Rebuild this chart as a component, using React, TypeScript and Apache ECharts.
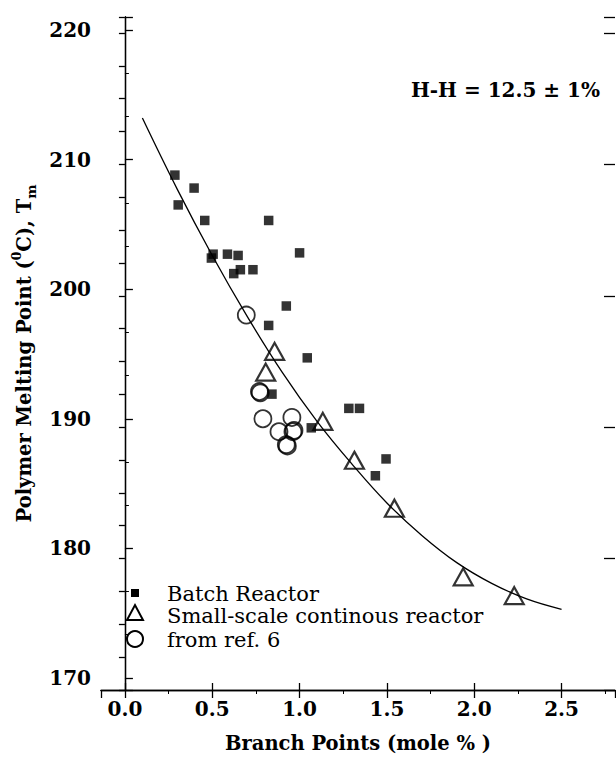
import React, { useEffect, useRef } from "react";
import * as echarts from "echarts";

// ---- data ----
const batchX = [0.286, 0.305, 0.396, 0.457, 0.823, 0.495, 0.505, 0.587, 0.648, 1.0, 0.623, 0.661, 0.733, 0.924, 0.823, 1.044, 0.842, 1.282, 1.343, 1.067, 1.495, 1.434];
const batchY = [208.8, 206.5, 207.8, 205.3, 205.3, 202.4, 202.7, 202.7, 202.6, 202.8, 201.2, 201.5, 201.5, 198.7, 197.2, 194.7, 191.9, 190.8, 190.8, 189.3, 186.9, 185.6];

const contX = [0.806, 0.857, 1.133, 1.314, 1.543, 1.937, 2.229];
const contY = [193.6, 195.2, 189.8, 186.8, 183.1, 177.8, 176.35];

const refX = [0.695, 0.775, 0.77, 0.79, 0.956, 0.882, 0.962, 0.968, 0.924, 0.93];
const refY = [198.0, 192.0, 192.1, 190.0, 190.1, 189.0, 189.0, 189.1, 188.0, 187.9];

const fitX = [0.1, 0.3, 0.5, 0.7, 0.9, 1.1, 1.3, 1.5, 1.7, 1.9, 2.1, 2.3, 2.5];
const fitY = [213.2, 207.7, 202.6, 197.9, 193.6, 189.8, 186.5, 183.5, 181.0, 178.9, 177.3, 176.1, 175.3];

const seriesNames = ["Batch Reactor", "Small-scale continous reactor", "from ref. 6"];
const xTitle = "Branch Points (mole % )";
const yTitle = "Polymer Melting Point ({sup|0}C), T{sub|m}";
const note = "H-H = 12.5 ± 1%";

const X_MIN = -0.137;
const X_MAX = 2.806;
const Y_MIN = 169.07;
const Y_MAX = 221.0;
const R_MAX = 20.487;

const zip = (xs: number[], ys: number[]) => xs.map((x, i) => [x, ys[i]]);

const SERIF = '"DejaVu Serif", serif';
const axisLineStyle = { color: "#000", width: 1.3 };
const legendFont = '21px "DejaVu Serif", serif';

export default function App() {
  const ref = useRef<HTMLDivElement>(null);
  useEffect(() => {
    if (!ref.current) return;
    const chart = echarts.init(ref.current, null, { renderer: "svg" });
    const option: any = {
      animation: false,
      backgroundColor: "#fff",
      grid: { left: 101, right: 1, top: 17, bottom: 68 },
      xAxis: [
        {
          type: "value",
          position: "bottom",
          min: X_MIN,
          max: X_MAX,
          splitNumber: 6,
          axisLine: { show: true, lineStyle: axisLineStyle },
          axisTick: { show: true, inside: true, length: 7, lineStyle: axisLineStyle },
          axisLabel: {
            showMinLabel: false,
            showMaxLabel: false,
            margin: 9,
            color: "#000",
            fontFamily: SERIF,
            fontWeight: "bold",
            fontSize: 20,
            formatter: (v: number) => v.toFixed(1),
          },
          splitLine: { show: false },
          name: xTitle,
          nameLocation: "middle",
          nameGap: 43,
          nameTextStyle: { color: "#000", fontFamily: SERIF, fontWeight: "bold", fontSize: 19.5 },
        },
        {
          type: "value",
          position: "top",
          min: X_MIN,
          max: X_MAX,
          splitNumber: 6,
          axisLine: { show: true, lineStyle: axisLineStyle },
          axisTick: { show: true, inside: true, length: 8, lineStyle: axisLineStyle },
          minorTick: { show: true, splitNumber: 2, length: 4, lineStyle: { color: "#000", width: 1 } },
          axisLabel: { show: false },
          splitLine: { show: false },
        },
      ],
      yAxis: [
        {
          type: "value",
          position: "left",
          min: Y_MIN,
          max: Y_MAX,
          splitNumber: 5,
          axisLine: { show: true, lineStyle: axisLineStyle },
          axisTick: { show: true, inside: true, length: 8, lineStyle: axisLineStyle },
          minorTick: { show: true, splitNumber: 3, length: 4, lineStyle: { color: "#000", width: 1 } },
          axisLabel: {
            showMinLabel: false,
            showMaxLabel: false,
            margin: 10,
            color: "#000",
            fontFamily: SERIF,
            fontWeight: "bold",
            fontSize: 20,
          },
          splitLine: { show: false },
          name: yTitle,
          nameLocation: "middle",
          nameRotate: 90,
          nameGap: 63,
          nameTextStyle: {
            color: "#000",
            fontFamily: SERIF,
            fontWeight: "bold",
            fontSize: 19.5,
            lineHeight: 28,
            rich: {
              sup: { color: "#000", fontFamily: SERIF, fontWeight: "bold", fontSize: 12.5, lineHeight: 14, verticalAlign: "top" },
              sub: { color: "#000", fontFamily: SERIF, fontWeight: "bold", fontSize: 13.5, lineHeight: 14, verticalAlign: "bottom" },
            },
          },
        },
        {
          type: "value",
          position: "right",
          min: 0,
          max: R_MAX,
          interval: 1,
          axisLine: { show: true, lineStyle: axisLineStyle },
          axisTick: { show: true, inside: true, length: 6, lineStyle: axisLineStyle },
          axisLabel: { show: false },
          splitLine: { show: false },
        },
        {
          type: "value",
          position: "right",
          min: 0,
          max: R_MAX,
          interval: 4,
          axisLine: { show: false },
          axisTick: { show: true, inside: true, length: 11, lineStyle: axisLineStyle },
          axisLabel: { show: false },
          splitLine: { show: false },
        },
      ],
      series: [
        {
          type: "line",
          name: "fit",
          data: zip(fitX, fitY),
          smooth: 0.4,
          showSymbol: false,
          symbol: "none",
          lineStyle: { color: "#000", width: 1.3 },
          z: 1,
        },
        {
          type: "scatter",
          name: seriesNames[0],
          data: zip(batchX, batchY),
          symbol: "rect",
          symbolSize: 9.5,
          itemStyle: { color: "#000" },
          z: 3,
        },
        {
          type: "scatter",
          name: seriesNames[1],
          data: zip(contX, contY),
          symbol: "triangle",
          symbolSize: [19, 17],
          itemStyle: { color: "rgba(0,0,0,0)", borderColor: "#000", borderWidth: 2.2 },
          z: 4,
        },
        {
          type: "scatter",
          name: seriesNames[2],
          data: zip(refX, refY),
          symbol: "circle",
          symbolSize: 17,
          itemStyle: { color: "rgba(0,0,0,0)", borderColor: "#000", borderWidth: 1.8 },
          z: 4,
        },
      ],
      graphic: [
        {
          type: "text",
          right: 16,
          top: 80,
          style: { text: note, fill: "#000", font: 'bold 20px "DejaVu Serif", serif' },
        },
        { type: "rect", shape: { x: 131, y: 589, width: 8, height: 8 }, style: { fill: "#000" } },
        {
          type: "polygon",
          shape: { points: [[127, 620], [143, 620], [135, 605]] },
          style: { fill: "none", stroke: "#000", lineWidth: 2 },
        },
        { type: "circle", shape: { cx: 135, cy: 639, r: 8 }, style: { fill: "none", stroke: "#000", lineWidth: 2 } },
        {
          type: "text",
          x: 167,
          y: 594,
          style: { text: seriesNames[0], fill: "#000", font: legendFont, verticalAlign: "middle" },
        },
        {
          type: "text",
          x: 167,
          y: 616,
          style: { text: seriesNames[1], fill: "#000", font: legendFont, verticalAlign: "middle" },
        },
        {
          type: "text",
          x: 167,
          y: 640,
          style: { text: seriesNames[2], fill: "#000", font: legendFont, verticalAlign: "middle" },
        },
      ],
    };
    chart.setOption(option);
    return () => chart.dispose();
  }, []);
  return (
    <div
      ref={ref}
      style={{ position: "fixed", left: 0, top: 0, width: 616, height: 758, background: "#fff" }}
    />
  );
}
